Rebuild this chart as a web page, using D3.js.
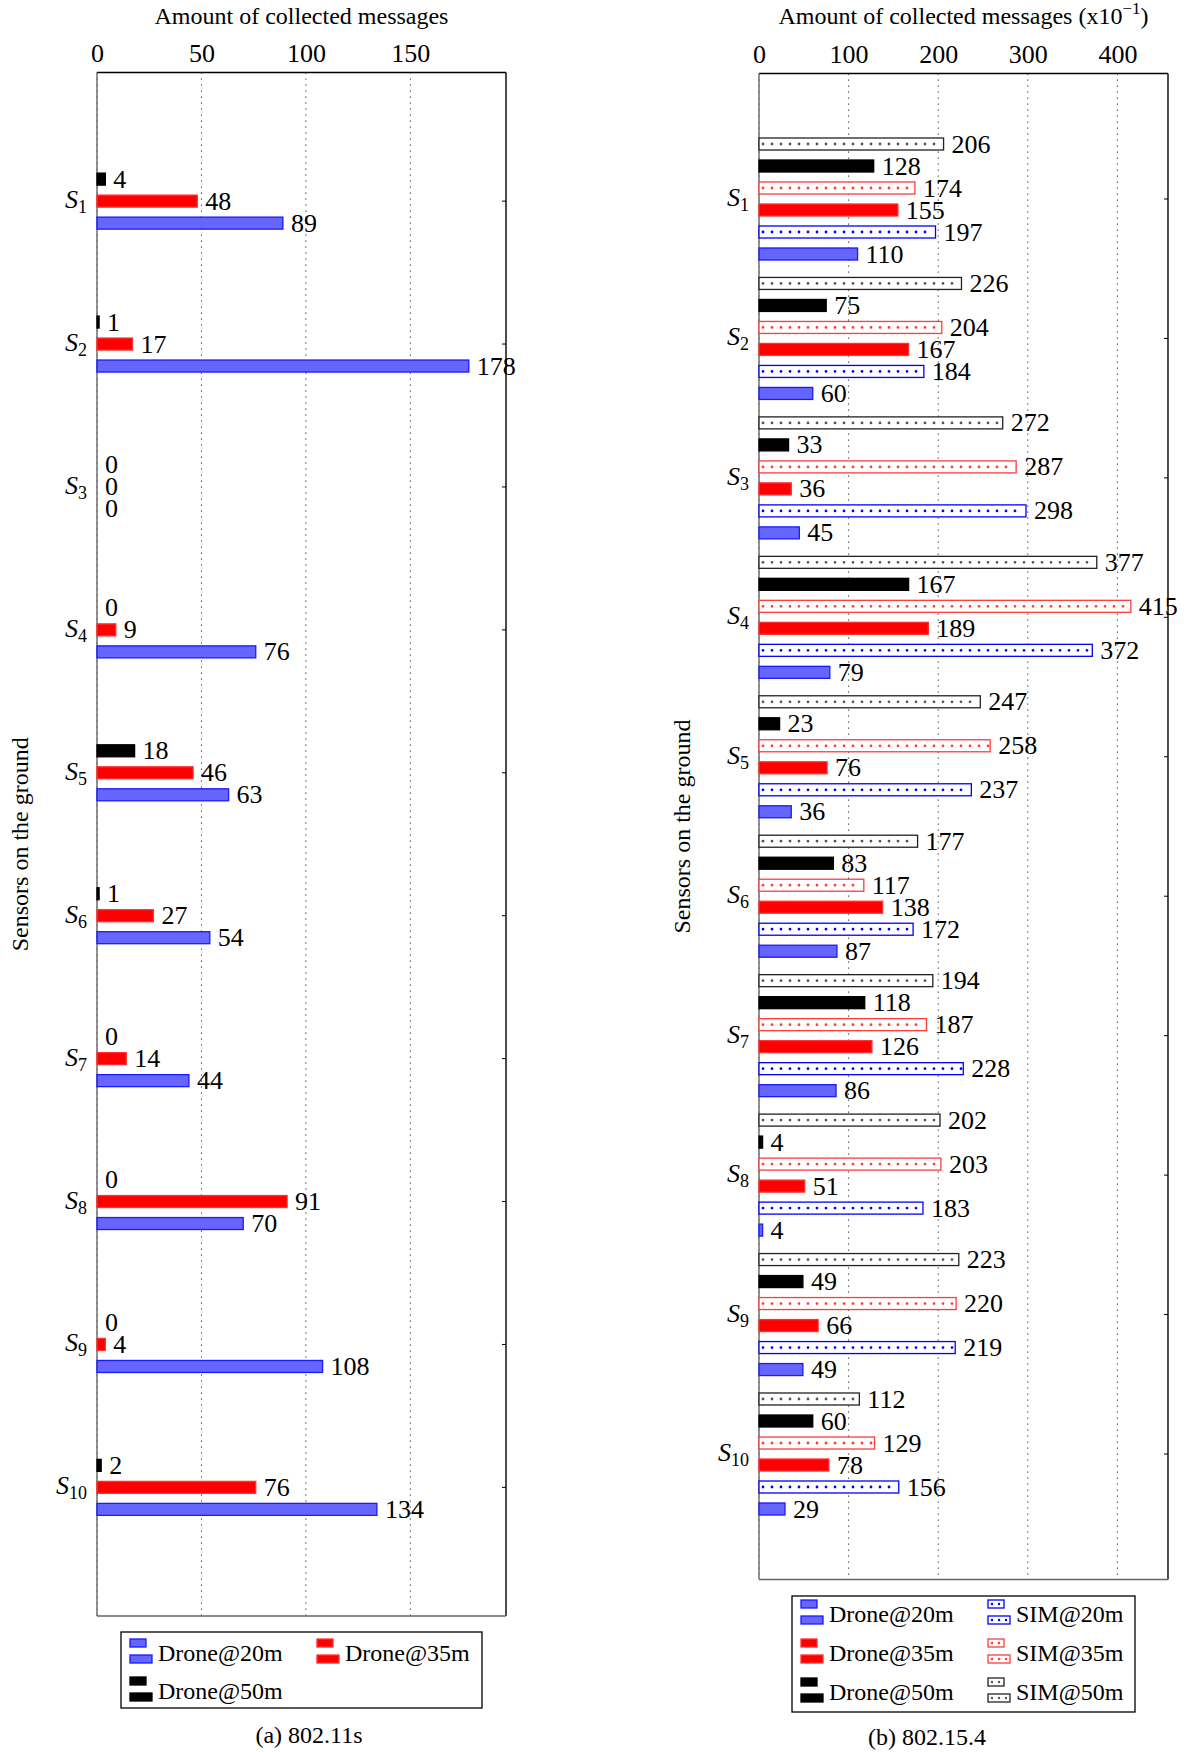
<!DOCTYPE html>
<html>
<head>
<meta charset="utf-8">
<script src="https://cdn.jsdelivr.net/npm/d3@7"></script>
<style>
  body { margin: 0; background: #fff; }
  svg { display: block; }
  text { font-family: "Liberation Serif", "DejaVu Serif", serif; fill: #000; }
</style>
</head>
<body>
<svg id="chart" width="1186" height="1752"></svg>
<script>
// sensors S1..S10
const sensors = [1, 2, 3, 4, 5, 6, 7, 8, 9, 10];

// (a) 802.11s
const wifiDrone20 = [89, 178, 0, 76, 63, 54, 44, 70, 108, 134];
const wifiDrone35 = [48, 17, 0, 9, 46, 27, 14, 91, 4, 76];
const wifiDrone50 = [4, 1, 0, 0, 18, 1, 0, 0, 0, 2];
const wifiTicks = [0, 50, 100, 150];

// (b) 802.15.4 (x10^-1)
const zbDrone20 = [110, 60, 45, 79, 36, 87, 86, 4, 49, 29];
const zbSim20 = [197, 184, 298, 372, 237, 172, 228, 183, 219, 156];
const zbDrone35 = [155, 167, 36, 189, 76, 138, 126, 51, 66, 78];
const zbSim35 = [174, 204, 287, 415, 258, 117, 187, 203, 220, 129];
const zbDrone50 = [128, 75, 33, 167, 23, 83, 118, 4, 49, 60];
const zbSim50 = [206, 226, 272, 377, 247, 177, 194, 202, 223, 112];
const zbTicks = [0, 100, 200, 300, 400];

const styles = {
    d20: { fill: '#6666ff', stroke: '#1a1aff', sim: false },
    d35: { fill: '#ff0000', stroke: '#ff3030', sim: false },
    d50: { fill: '#000000', stroke: '#000000', sim: false },
    s20: { fill: '#ffffff', stroke: '#0000ff', dot: '#0000ff', sim: true },
    s35: { fill: '#ffffff', stroke: '#ff3b3b', dot: '#ff3b3b', sim: true },
    s50: { fill: '#ffffff', stroke: '#222222', dot: '#555555', sim: true }
};

const svg = d3.select('#chart');
const FONT = 24;     // text (titles, legend, captions)
const NUM = 26;      // numbers (ticks, value labels)

function drawPanel(p) {
    const g = svg.append('g');
    const maxV = d3.max(p.series, s => d3.max(s.values));
    const x = d3.scaleLinear().domain([0, maxV * 1.1]).range([p.x0, p.x1]);
    const y = d3.scaleLinear().domain([0.1, sensors.length + 0.9]).range([p.y0, p.y1]);

    // dotted grid
    g.selectAll('line.grid')
        .data(p.ticks)
        .enter()
        .append('line')
        .attr('class', 'grid')
        .attr('x1', d => x(d))
        .attr('x2', d => x(d))
        .attr('y1', p.y0)
        .attr('y2', p.y1)
        .attr('stroke', '#222')
        .attr('stroke-width', 1)
        .attr('stroke-dasharray', '1.2 4.8');

    // frame
    g.append('line').attr('x1', p.x0).attr('x2', p.x1).attr('y1', p.y0).attr('y2', p.y0)
        .attr('stroke', '#000').attr('stroke-width', 1.4);
    g.append('line').attr('x1', p.x1).attr('x2', p.x1).attr('y1', p.y0).attr('y2', p.y1)
        .attr('stroke', '#000').attr('stroke-width', 1.4);
    g.append('line').attr('x1', p.x0).attr('x2', p.x1).attr('y1', p.y1).attr('y2', p.y1)
        .attr('stroke', '#666').attr('stroke-width', 1.6);
    g.append('line').attr('x1', p.x0).attr('x2', p.x0).attr('y1', p.y0).attr('y2', p.y1)
        .attr('stroke', '#777').attr('stroke-width', 1.6);

    // small inward ticks on right spine
    g.selectAll('line.rtick')
        .data(sensors)
        .enter()
        .append('line')
        .attr('class', 'rtick')
        .attr('x1', p.x1 - 4)
        .attr('x2', p.x1)
        .attr('y1', d => y(d))
        .attr('y2', d => y(d))
        .attr('stroke', '#000');

    // x axis on top
    const xAxis = d3.axisTop(x).tickValues(p.ticks).tickSize(0).tickPadding(0);
    const ax = g.append('g')
        .attr('transform', `translate(0,${p.y0 - 11})`)
        .call(xAxis);
    ax.select('.domain').remove();
    ax.selectAll('text')
        .style('font-family', '"Liberation Serif", serif')
        .style('font-size', NUM + 'px')
        .attr('fill', '#000');

    // title
    const title = g.append('text')
        .attr('x', (p.x0 + p.x1) / 2)
        .attr('y', 24)
        .attr('text-anchor', 'middle')
        .style('font-size', FONT + 'px')
        .text(p.title);
    if (p.titleSup) {
        title.append('tspan').text('(x10');
        title.append('tspan').attr('dy', -10).style('font-size', '17px').text(p.titleSup);
        title.append('tspan').attr('dy', 10).text(')');
    }

    // y axis title
    g.append('text')
        .attr('transform', `translate(${p.ylabX},${(p.y0 + p.y1) / 2}) rotate(-90)`)
        .attr('text-anchor', 'middle')
        .style('font-size', FONT + 'px')
        .text('Sensors on the ground');

    // category labels S_i
    const cat = g.selectAll('text.cat')
        .data(sensors)
        .enter()
        .append('text')
        .attr('class', 'cat')
        .attr('x', p.x0 - 10)
        .attr('y', d => y(d) + 7)
        .attr('text-anchor', 'end')
        .style('font-size', NUM + 'px');
    cat.append('tspan').style('font-style', 'italic').text('S');
    cat.append('tspan').attr('dy', 5).style('font-size', '18px').text(d => d);

    // bars
    const n = p.series.length;
    p.series.forEach((s, si) => {
        const st = styles[s.style];
        const off = (si - (n - 1) / 2) * p.step;
        const rows = s.values.map((v, i) => ({ v, c: sensors[i] }));
        const bg = g.append('g');

        bg.selectAll('rect')
            .data(rows.filter(d => d.v > 0))
            .enter()
            .append('rect')
            .attr('x', x(0))
            .attr('y', d => y(d.c) + off - p.barH / 2)
            .attr('width', d => x(d.v) - x(0))
            .attr('height', p.barH)
            .attr('fill', st.fill)
            .attr('stroke', st.stroke)
            .attr('stroke-width', 1.3);

        if (st.sim) {
            bg.selectAll('line.dots')
                .data(rows.filter(d => d.v > 0))
                .enter()
                .append('line')
                .attr('class', 'dots')
                .attr('x1', x(0) + 4)
                .attr('x2', d => x(d.v) - 2)
                .attr('y1', d => y(d.c) + off)
                .attr('y2', d => y(d.c) + off)
                .attr('stroke', st.dot)
                .attr('stroke-width', 2.8)
                .attr('stroke-linecap', 'round')
                .attr('stroke-dasharray', '0 9');
        }

        bg.selectAll('text')
            .data(rows)
            .enter()
            .append('text')
            .attr('x', d => x(d.v) + 8)
            .attr('y', d => y(d.c) + off + 8.5)
            .style('font-size', NUM + 'px')
            .text(d => d.v);
    });

    // legend
    const lg = g.append('g');
    lg.append('rect')
        .attr('x', p.legend.x)
        .attr('y', p.legend.y)
        .attr('width', p.legend.w)
        .attr('height', p.legend.h)
        .attr('fill', '#fff')
        .attr('stroke', '#000')
        .attr('stroke-width', 1.3);

    p.legend.items.forEach(it => {
        const st = styles[it.style];
        const bx = it.x, by = it.y;
        const icons = [
            { x: bx, y: by - 22, w: 16, h: 8, nd: 2 },
            { x: bx, y: by - 6, w: 22, h: 8, nd: 3 }
        ];
        icons.forEach(ic => {
            lg.append('rect')
                .attr('x', ic.x).attr('y', ic.y)
                .attr('width', ic.w).attr('height', ic.h)
                .attr('fill', st.fill).attr('stroke', st.stroke).attr('stroke-width', 1.3);
            if (st.sim) {
                lg.append('line')
                    .attr('x1', ic.x + 4).attr('x2', ic.x + ic.w - 2)
                    .attr('y1', ic.y + ic.h / 2).attr('y2', ic.y + ic.h / 2)
                    .attr('stroke', st.dot).attr('stroke-width', 2.4)
                    .attr('stroke-linecap', 'round')
                    .attr('stroke-dasharray', '0 7');
            }
        });
        lg.append('text')
            .attr('x', bx + 28)
            .attr('y', by)
            .style('font-size', FONT + 'px')
            .text(it.label);
    });

    // caption
    g.append('text')
        .attr('x', p.caption.x)
        .attr('y', p.caption.y)
        .attr('text-anchor', 'middle')
        .style('font-size', FONT + 'px')
        .text(p.caption.text);
}

drawPanel({
    x0: 97, x1: 506, y0: 72.5, y1: 1616,
    ticks: wifiTicks,
    title: 'Amount of collected messages',
    ylabX: 28,
    barH: 12, step: 22,
    series: [
        { style: 'd50', values: wifiDrone50 },
        { style: 'd35', values: wifiDrone35 },
        { style: 'd20', values: wifiDrone20 }
    ],
    legend: {
        x: 121, y: 1632, w: 361, h: 76,
        items: [
            { style: 'd20', label: 'Drone@20m', x: 130, y: 1661 },
            { style: 'd35', label: 'Drone@35m', x: 317, y: 1661 },
            { style: 'd50', label: 'Drone@50m', x: 130, y: 1699 }
        ]
    },
    caption: { text: '(a) 802.11s', x: 309, y: 1743 }
});

drawPanel({
    x0: 759, x1: 1168, y0: 73.5, y1: 1579.5,
    ticks: zbTicks,
    title: 'Amount of collected messages ',
    titleSup: '\u22121',
    ylabX: 690,
    barH: 12, step: 22,
    series: [
        { style: 's50', values: zbSim50 },
        { style: 'd50', values: zbDrone50 },
        { style: 's35', values: zbSim35 },
        { style: 'd35', values: zbDrone35 },
        { style: 's20', values: zbSim20 },
        { style: 'd20', values: zbDrone20 }
    ],
    legend: {
        x: 792, y: 1596, w: 343, h: 116,
        items: [
            { style: 'd20', label: 'Drone@20m', x: 801, y: 1622 },
            { style: 's20', label: 'SIM@20m', x: 988, y: 1622 },
            { style: 'd35', label: 'Drone@35m', x: 801, y: 1661 },
            { style: 's35', label: 'SIM@35m', x: 988, y: 1661 },
            { style: 'd50', label: 'Drone@50m', x: 801, y: 1700 },
            { style: 's50', label: 'SIM@50m', x: 988, y: 1700 }
        ]
    },
    caption: { text: '(b) 802.15.4', x: 927, y: 1745 }
});
</script>
</body>
</html>
